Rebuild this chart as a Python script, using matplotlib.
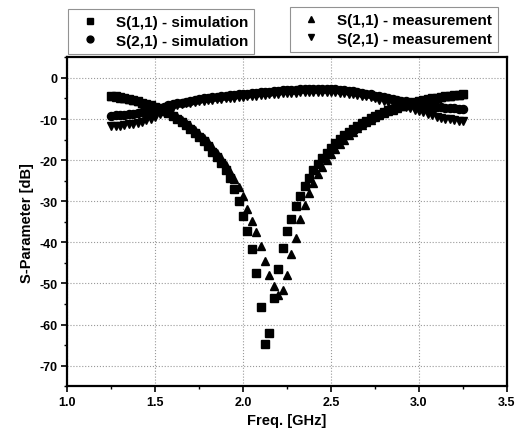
import numpy as np
import matplotlib
matplotlib.use("Agg")
import matplotlib.pyplot as plt
from matplotlib.ticker import MultipleLocator

plt.rcParams['font.family'] = ['Liberation Sans', 'DejaVu Sans']

freq = np.round(np.linspace(1.25, 3.25, 81), 3)

s11_sim = [
    -4.3, -4.5, -4.7, -4.9, -5.1, -5.4, -5.7, -6.0, -6.3, -6.7,
    -7.1, -7.5, -8.0, -8.6, -9.2, -9.9, -10.7, -11.5, -12.4, -13.3,
    -14.3, -15.4, -16.6, -17.9, -19.3, -20.8, -22.5, -24.4, -27.0, -30.0,
    -33.6, -37.3, -41.5, -47.5, -55.8, -64.8, -62.0, -53.5, -46.5, -41.3,
    -37.3, -34.2, -31.2, -28.7, -26.4, -24.3, -22.5, -20.9, -19.5, -18.2,
    -17.0, -15.9, -14.9, -14.0, -13.2, -12.4, -11.7, -11.0, -10.4, -9.8,
    -9.3, -8.8, -8.3, -7.9, -7.5, -7.1, -6.8, -6.5, -6.2, -5.9,
    -5.6, -5.4, -5.2, -5.0, -4.8, -4.6, -4.5, -4.3, -4.2, -4.1,
    -4.0]

s21_sim = [
    -9.2, -9.1, -9.0, -8.9, -8.8, -8.7, -8.6, -8.4, -8.2, -7.9,
    -7.6, -7.3, -7.0, -6.7, -6.4, -6.2, -6.0, -5.8, -5.6, -5.4,
    -5.2, -5.0, -4.9, -4.7, -4.6, -4.5, -4.4, -4.2, -4.1, -4.0,
    -3.9, -3.8, -3.7, -3.6, -3.5, -3.4, -3.3, -3.2, -3.1, -3.0,
    -3.0, -2.9, -2.9, -2.8, -2.8, -2.7, -2.7, -2.7, -2.7, -2.7,
    -2.7, -2.8, -2.9, -3.0, -3.1, -3.2, -3.4, -3.6, -3.8, -4.0,
    -4.3, -4.5, -4.7, -4.9, -5.1, -5.3, -5.5, -5.7, -5.9, -6.1,
    -6.3, -6.5, -6.7, -6.8, -7.0, -7.1, -7.2, -7.3, -7.4, -7.5,
    -7.5]

s11_meas = [
    -4.4, -4.6, -4.8, -5.0, -5.2, -5.4, -5.7, -6.0, -6.3, -6.6,
    -7.0, -7.4, -7.8, -8.3, -8.9, -9.5, -10.2, -11.0, -11.8, -12.7,
    -13.6, -14.6, -15.7, -16.9, -18.2, -19.6, -21.1, -22.8, -24.6, -26.6,
    -28.8, -31.9, -34.9, -37.6, -41.0, -44.5, -47.9, -50.7, -52.8, -51.6,
    -47.9, -42.8, -38.9, -34.3, -30.8, -28.0, -25.5, -23.4, -21.6, -20.0,
    -18.6, -17.3, -16.1, -15.0, -14.0, -13.1, -12.3, -11.5, -10.8, -10.2,
    -9.6, -9.1, -8.6, -8.1, -7.7, -7.3, -6.9, -6.6, -6.3, -6.0,
    -5.7, -5.5, -5.3, -5.1, -4.9, -4.7, -4.5, -4.4, -4.2, -4.1,
    -4.0]

s21_meas = [
    -11.8, -11.7, -11.6, -11.5, -11.3, -11.1, -10.9, -10.6, -10.3, -9.9,
    -9.4, -8.8, -8.2, -7.6, -7.1, -6.7, -6.4, -6.2, -6.0, -5.8,
    -5.6, -5.5, -5.4, -5.3, -5.2, -5.1, -5.0, -4.9, -4.8, -4.7,
    -4.6, -4.5, -4.4, -4.3, -4.2, -4.1, -4.0, -3.9, -3.8, -3.7,
    -3.7, -3.6, -3.6, -3.5, -3.5, -3.4, -3.4, -3.4, -3.4, -3.4,
    -3.4, -3.5, -3.6, -3.7, -3.8, -3.9, -4.1, -4.3, -4.5, -4.7,
    -5.0, -5.3, -5.6, -5.9, -6.2, -6.5, -6.8, -7.1, -7.4, -7.7,
    -8.0, -8.4, -8.8, -9.1, -9.4, -9.7, -9.9, -10.1, -10.3, -10.4,
    -10.5]

x_ticks = [1.0, 1.5, 2.0, 2.5, 3.0, 3.5]
y_ticks = [0, -10, -20, -30, -40, -50, -60, -70]

fig = plt.figure(figsize=(5.21, 4.39), dpi=100)
ax = fig.add_axes([0.129, 0.118, 0.844, 0.749])

ms = 5.8
h1, = ax.plot(freq, s11_sim, ls='none', marker='s', ms=ms, color='black', label='S(1,1) - simulation')
h2, = ax.plot(freq, s21_sim, ls='none', marker='o', ms=ms, color='black', label='S(2,1) - simulation')
h3, = ax.plot(freq, s11_meas, ls='none', marker='^', ms=ms, color='black', label='S(1,1) - measurement')
h4, = ax.plot(freq, s21_meas, ls='none', marker='v', ms=ms, color='black', label='S(2,1) - measurement')

ax.set_xlim(1.0, 3.5)
ax.set_ylim(-75, 5)
ax.set_xticks(x_ticks)
ax.set_yticks(y_ticks)
ax.set_xticklabels([f"{v:.1f}" for v in x_ticks])
ax.set_yticklabels([str(v) for v in y_ticks])
ax.xaxis.set_minor_locator(MultipleLocator(0.25))
ax.yaxis.set_minor_locator(MultipleLocator(5))
ax.tick_params(which='major', length=4, width=1.2, labelsize=9, pad=3)
ax.tick_params(which='minor', length=2.5, width=1.0)
for lab in ax.get_xticklabels() + ax.get_yticklabels():
    lab.set_fontweight('bold')
for sp in ax.spines.values():
    sp.set_linewidth(1.6)
ax.grid(True, which='major', ls=':', lw=0.8, color='#999999')
ax.set_axisbelow(True)

ax.set_xlabel('Freq. [GHz]', fontsize=10.5, fontweight='bold', labelpad=4)
ax.set_ylabel('S-Parameter [dB]', fontsize=10.5, fontweight='bold', labelpad=4)

leg_kw = dict(frameon=True, fancybox=False, edgecolor='#777777',
              prop={'weight': 'bold', 'size': 11}, borderaxespad=0, handletextpad=0.7,
              labelspacing=0.3, borderpad=0.4, handlelength=2.0, markerscale=0.85)
l1 = fig.legend(handles=[h1, h2], loc='upper left', bbox_to_anchor=(0.131, 0.977), **leg_kw)
l2 = fig.legend(handles=[h3, h4], loc='upper right', bbox_to_anchor=(0.956, 0.982), **leg_kw)
for l in (l1, l2):
    l.get_frame().set_linewidth(0.8)

fig.savefig('out.png', dpi=100)
